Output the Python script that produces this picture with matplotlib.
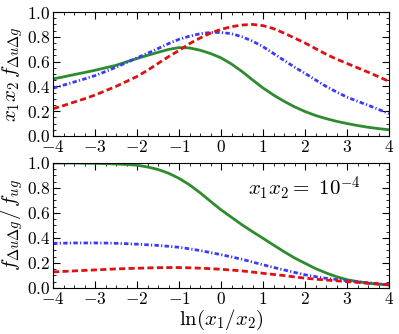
import numpy as np
import matplotlib
matplotlib.use("Agg")
import matplotlib.pyplot as plt
from matplotlib.ticker import MultipleLocator, FormatStrFormatter

plt.rcParams['mathtext.fontset'] = 'cm'
plt.rcParams['font.family'] = 'serif'
plt.rcParams['font.serif'] = ['DejaVu Serif']

# ln(x1/x2) sample points, step 0.25 from -4 to 4
x = np.arange(-4, 4.001, 0.25)

# top panel: x1 x2 f_{Delta u Delta g}
top_green = [0.46, 0.477, 0.495, 0.512, 0.53, 0.55, 0.57, 0.598, 0.625, 0.65, 0.675, 0.698,
             0.713, 0.71, 0.692, 0.665, 0.63, 0.58, 0.52, 0.452, 0.387, 0.33, 0.28, 0.235,
             0.197, 0.165, 0.14, 0.118, 0.10, 0.084, 0.07, 0.059, 0.05]
top_blue = [0.385, 0.41, 0.435, 0.46, 0.487, 0.52, 0.555, 0.592, 0.63, 0.667, 0.705, 0.745,
            0.78, 0.805, 0.825, 0.835, 0.835, 0.825, 0.80, 0.765, 0.72, 0.665, 0.61, 0.555,
            0.505, 0.452, 0.40, 0.355, 0.313, 0.28, 0.248, 0.214, 0.18]
top_red = [0.22, 0.245, 0.273, 0.30, 0.33, 0.365, 0.40, 0.44, 0.48, 0.53, 0.585, 0.64,
           0.69, 0.745, 0.79, 0.83, 0.86, 0.882, 0.895, 0.90, 0.89, 0.866, 0.83, 0.79,
           0.75, 0.705, 0.66, 0.62, 0.585, 0.55, 0.515, 0.478, 0.44]

# bottom panel: f_{Delta u Delta g} / f_{ug}
bot_green = [1.0, 1.0, 1.0, 0.998, 0.997, 0.995, 0.992, 0.988, 0.982, 0.968, 0.948, 0.918,
             0.877, 0.825, 0.762, 0.693, 0.625, 0.565, 0.505, 0.45, 0.397, 0.343, 0.29, 0.24,
             0.197, 0.155, 0.12, 0.09, 0.066, 0.05, 0.038, 0.03, 0.024]
bot_blue = [0.357, 0.358, 0.36, 0.36, 0.36, 0.359, 0.357, 0.354, 0.35, 0.345, 0.34, 0.333,
            0.325, 0.313, 0.299, 0.283, 0.266, 0.248, 0.229, 0.207, 0.185, 0.164, 0.144, 0.124,
            0.105, 0.09, 0.077, 0.067, 0.058, 0.05, 0.042, 0.033, 0.025]
bot_red = [0.128, 0.132, 0.136, 0.14, 0.144, 0.148, 0.152, 0.155, 0.157, 0.16, 0.162, 0.163,
           0.163, 0.161, 0.158, 0.154, 0.149, 0.143, 0.136, 0.127, 0.117, 0.108, 0.099, 0.088,
           0.078, 0.07, 0.063, 0.057, 0.05, 0.044, 0.037, 0.031, 0.024]

fig = plt.figure(figsize=(3.99, 3.34), dpi=100)
ax1 = fig.add_axes([0.133, 0.593, 0.842, 0.371])
ax2 = fig.add_axes([0.133, 0.138, 0.842, 0.374])

for ax, (g, b, r) in [(ax1, (top_green, top_blue, top_red)),
                      (ax2, (bot_green, bot_blue, bot_red))]:
    ax.plot(x, g, color='#2e8b2e', lw=2.0, ls='-')
    ax.plot(x, b, color='#3a3aff', lw=2.0, ls=(0, (1.6, 0.8, 0.45, 0.8)))
    ax.plot(x, r, color='#e01010', lw=2.0, ls=(0, (2.2, 1.2)))
    ax.set_xlim(-4, 4)
    ax.set_ylim(0, 1)
    ax.xaxis.set_major_locator(MultipleLocator(1))
    ax.xaxis.set_minor_locator(MultipleLocator(0.25))
    ax.yaxis.set_major_locator(MultipleLocator(0.2))
    ax.yaxis.set_minor_locator(MultipleLocator(0.05))
    ax.xaxis.set_major_formatter(FormatStrFormatter(r'$%d$'))
    ax.yaxis.set_major_formatter(FormatStrFormatter(r'$%.1f$'))
    ax.tick_params(which='both', direction='in', top=True, right=True, labelsize=12.5, pad=2)
    ax.tick_params(which='major', length=5)
    ax.tick_params(which='minor', length=2.5)

ax1.set_ylabel(r'$x_1x_2\,f_{\Delta u\Delta g}$', fontsize=15, labelpad=1)
ax2.set_ylabel(r'$f_{\Delta u\Delta g}/\,f_{ug}$', fontsize=15, labelpad=1)
ax2.set_xlabel(r'$\ln(x_1/x_2)$', fontsize=15, labelpad=0)
ax2.text(0.748, 0.80, r'$x_1x_2 =\ 10^{-4}$', transform=ax2.transAxes,
         ha='center', va='center', fontsize=15)

fig.savefig('out.png', dpi=100)
